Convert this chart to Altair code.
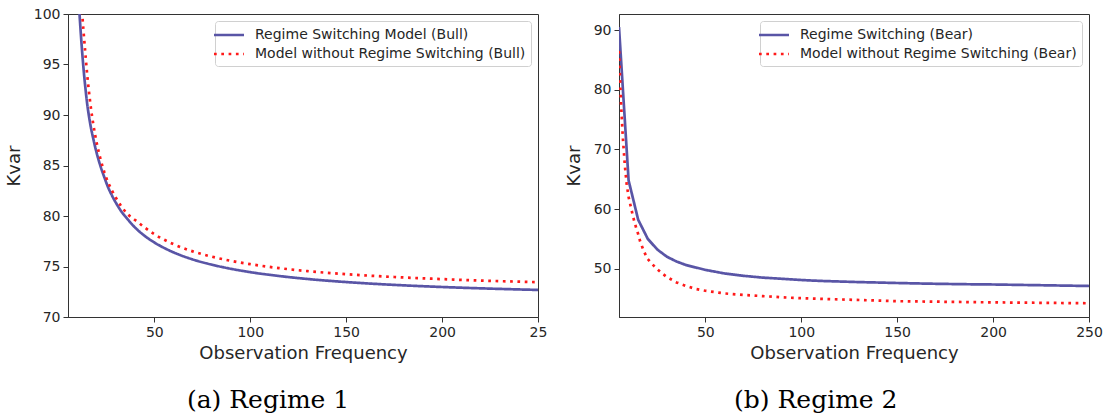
import altair as alt
import pandas as pd

BLUE = "#5955a6"
RED = "#ff1a1a"

# ---- Regime 1 (Bull) ----
bull_x = [10, 11, 12, 13, 14, 15, 16, 17, 18, 20, 22, 24, 26, 28, 30, 33, 36, 40, 45, 50,
          55, 60, 70, 80, 90, 100, 115, 130, 150, 175, 200, 225, 250]
bull_rs = [103.0, 100.0, 97.2, 94.8, 92.8, 91.1, 89.8, 88.7, 87.8, 86.2, 84.9, 83.8, 82.8, 82.0,
           81.3, 80.4, 79.7, 78.85, 78.03, 77.38, 76.85, 76.4, 75.7, 75.18, 74.77, 74.44, 74.06,
           73.76, 73.46, 73.18, 72.97, 72.81, 72.68]
bull_nors = [106.0, 103.0, 101.0, 98.5, 96.2, 94.0, 92.2, 90.6, 89.3, 87.2, 85.6, 84.3, 83.3, 82.5,
             81.8, 80.9, 80.2, 79.6, 78.86, 78.2, 77.66, 77.21, 76.5, 75.97, 75.56, 75.23, 74.84,
             74.54, 74.24, 73.96, 73.75, 73.58, 73.45]

# ---- Regime 2 (Bear) ----
bear_rs_x = [5, 10, 15, 20, 25, 30, 35, 40, 45, 50, 55, 60, 65, 70, 75, 80, 85, 90, 95, 100,
             110, 120, 130, 140, 150, 160, 170, 180, 190, 200, 210, 220, 230, 240, 250]
bear_rs = [90.5, 64.8, 58.2, 55.0, 53.2, 52.0, 51.2, 50.6, 50.2, 49.8, 49.5, 49.2, 49.0, 48.8,
           48.65, 48.5, 48.4, 48.3, 48.2, 48.1, 47.95, 47.85, 47.75, 47.68, 47.6, 47.53, 47.47,
           47.42, 47.38, 47.35, 47.3, 47.25, 47.2, 47.15, 47.1]
bear_nors_x = [5, 6, 7, 8, 9, 10, 11, 12, 13, 14, 15, 16, 18, 20, 22.5, 25, 27.5, 30, 35, 40, 45,
               50, 60, 70, 80, 90, 100, 110, 125, 150, 175, 200, 225, 250]
bear_nors = [86.5, 78.0, 72.0, 67.5, 64.2, 62.0, 60.6, 59.2, 57.9, 56.8, 55.8, 54.6, 52.9, 51.6,
             50.7, 49.9, 49.2, 48.6, 47.7, 47.1, 46.6, 46.3, 45.85, 45.6, 45.4, 45.2, 45.05, 44.95,
             44.8, 44.55, 44.45, 44.35, 44.28, 44.2]

x_ticks = [50, 100, 150, 200, 250]
bull_labels = ["Regime Switching Model (Bull)", "Model without Regime Switching (Bull)"]
bear_labels = ["Regime Switching (Bear)", "Model without Regime Switching (Bear)"]


def frame(xs1, ys1, xs2, ys2, names):
    a = pd.DataFrame({"x": xs1, "value": ys1, "series": names[0]})
    b = pd.DataFrame({"x": xs2, "value": ys2, "series": names[1]})
    return pd.concat([a, b], ignore_index=True)


def panel(df, names, ydomain, yticks, label_expr, caption, cap_dx, interp):
    leg = alt.Legend(title=None, orient="top-right", offset=7)
    return alt.Chart(df).mark_line(clip=True, strokeWidth=2.7, interpolate=interp).encode(
        x=alt.X("x:Q", scale=alt.Scale(domain=[5, 250], nice=False, zero=False),
                axis=alt.Axis(values=x_ticks, title="Observation Frequency",
                              labelExpr=label_expr, labelFlush=False)),
        y=alt.Y("value:Q", scale=alt.Scale(domain=ydomain, nice=False, zero=False),
                axis=alt.Axis(values=yticks, title="Kvar", labelFlush=False)),
        color=alt.Color("series:N", scale=alt.Scale(domain=names, range=[BLUE, RED]), legend=leg),
        strokeDash=alt.StrokeDash("series:N",
                                  scale=alt.Scale(domain=names, range=[[1, 0], [2.7, 4.6]]),
                                  legend=leg),
        order=alt.Order("x:Q"),
    ).properties(
        width=470, height=303,
        title=alt.TitleParams(caption, orient="bottom", anchor="middle", frame="bounds",
                              font="DejaVu Serif", fontSize=25, fontWeight="normal",
                              color="black", offset=26, dx=cap_dx),
    )


left = panel(frame(bull_x, bull_rs, bull_x, bull_nors, bull_labels), bull_labels,
             [70, 100], [70, 75, 80, 85, 90, 95, 100],
             "datum.value == 250 ? '25' : datum.label", "(a) Regime 1", -8, "monotone")
right = panel(frame(bear_rs_x, bear_rs, bear_nors_x, bear_nors, bear_labels), bear_labels,
              [41.9, 92.7], [50, 60, 70, 80, 90],
              "datum.label", "(b) Regime 2", -18, "linear")

chart = alt.hconcat(left, right, spacing=81, bounds="flush").resolve_scale(
    color="independent", strokeDash="independent", x="independent", y="independent"
).resolve_legend(color="independent", strokeDash="independent").properties(
    padding={"left": 4, "top": 6, "right": 0, "bottom": 0}
).configure_axis(
    labelFont="DejaVu Sans", labelFontSize=14, labelColor="#262626",
    titleFont="DejaVu Sans", titleFontSize=18, titleFontWeight="normal", titleColor="#262626",
    domainColor="#333333", tickColor="#333333", tickSize=5, grid=False, labelPadding=3,
).configure_axisY(titlePadding=10).configure_axisX(titlePadding=5).configure_view(
    stroke="#333333", strokeWidth=1
).configure_legend(
    labelFont="DejaVu Sans", labelFontSize=14, labelColor="#262626", labelLimit=0,
    symbolType="M-2,0H2", symbolSize=225, symbolStrokeWidth=2.6, labelOffset=17,
    strokeColor="#d0d0d0", fillColor="rgba(255,255,255,0.85)", cornerRadius=3,
    padding=5, rowPadding=3,
)

chart.save("out.html", embed_options={"renderer": "svg", "actions": False})
